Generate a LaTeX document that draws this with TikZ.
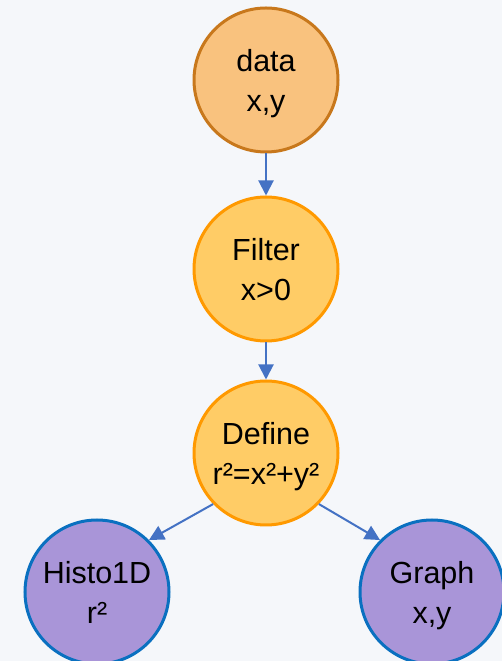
\documentclass[tikz,border=0pt]{standalone}
\usepackage{fontspec}
\setmainfont{Liberation Sans}
\usetikzlibrary{arrows.meta}
\definecolor{bgcol}{HTML}{F5F7FA}
\definecolor{srcfill}{HTML}{F9C27E}
\definecolor{srcline}{HTML}{C8781C}
\definecolor{opfill}{HTML}{FFCC66}
\definecolor{opline}{HTML}{FF9900}
\definecolor{resfill}{HTML}{A995D8}
\definecolor{resline}{HTML}{0A70C0}
\definecolor{edgecol}{HTML}{4472C4}
% two-line label with fixed line metrics, so every stage centres alike
\newcommand{\twolines}[2]{\rule{0pt}{32pt}#1\\#2\rule[-8pt]{0pt}{8pt}}
\tikzset{
  stage/.style={circle, minimum size=144pt, inner sep=0pt, line width=3pt,
    align=center, font=\fontsize{30.5}{40}\selectfont},
  source/.style={stage, fill=srcfill, draw=srcline},
  transform/.style={stage, fill=opfill, draw=opline},
  result/.style={stage, fill=resfill, draw=resline},
  flow/.style={draw=edgecol, line width=2pt,
    -{Triangle[length=15pt,width=15pt]}}
}
\begin{document}
\begin{tikzpicture}[x=1pt,y=1pt]
  \fill[bgcol] (0,0) rectangle (502,661);
  \useasboundingbox (0,0) rectangle (502,661);
  \node[source]    (data)   at (266,581) {\twolines{data}{x,y}};
  \node[transform] (filter) at (266,392) {\twolines{Filter}{x>0}};
  \node[transform] (define) at (266,208) {\twolines{Define}{r²=x²+y²}};
  \node[result]    (histo)  at (97,69)   {\twolines{Histo1D}{r²}};
  \node[result]    (graph)  at (432,69)  {\twolines{Graph}{x,y}};
  \draw[flow] (data) -- (filter);
  \draw[flow] (filter) -- (define);
  \draw[flow] (define.224) -- (histo.45);
  \draw[flow] (define.316) -- (graph.135);
\end{tikzpicture}
\end{document}
